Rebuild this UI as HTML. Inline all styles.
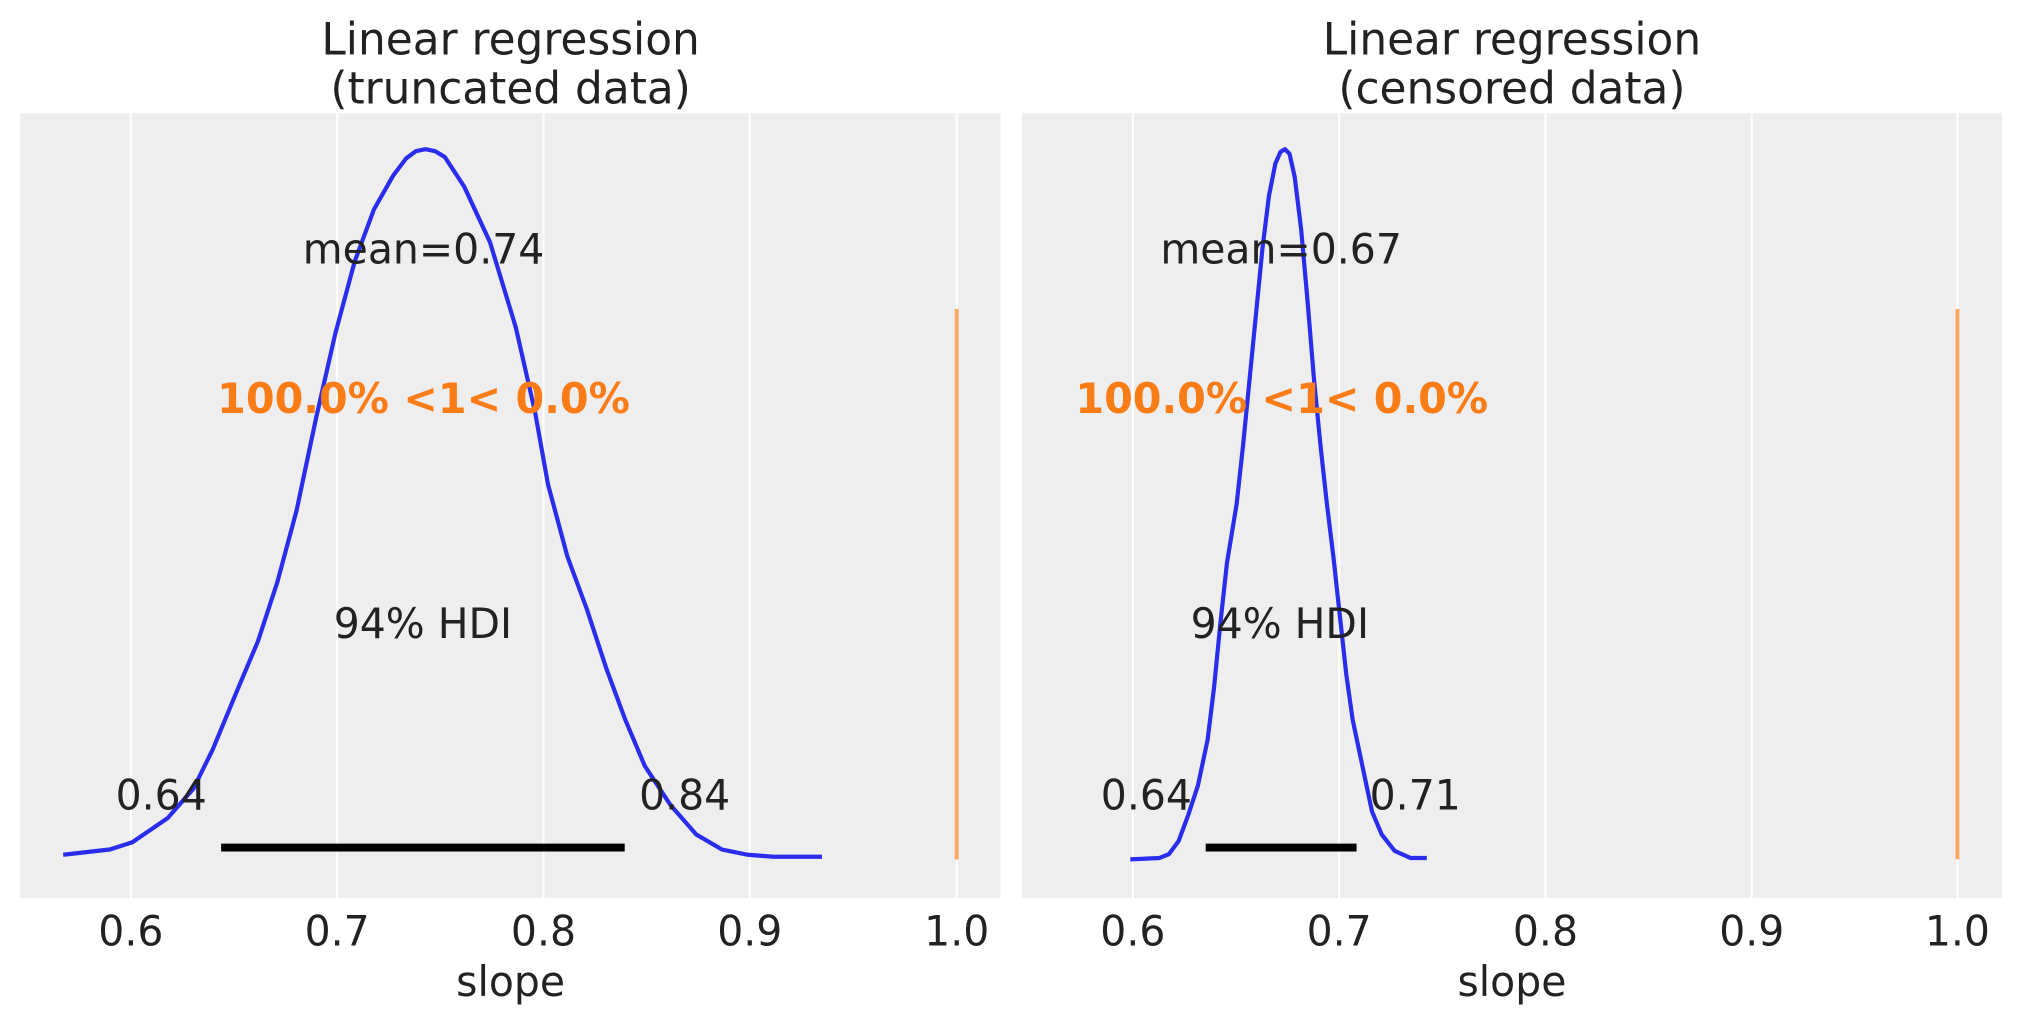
<!DOCTYPE html>
<html><head><meta charset="utf-8"><style>html,body{margin:0;padding:0;background:#fff}svg{display:block}</style></head>
<body>
<svg width="2023" height="1023" viewBox="0 0 2023 1023" xmlns="http://www.w3.org/2000/svg" font-family="DejaVu Sans, Liberation Sans, sans-serif" fill="#222">
<rect width="2023" height="1023" fill="#fff"/>
<g transform="scale(0.6447,0.6545)">
  <rect x="31" y="173" width="1521" height="1199" fill="#eeeeee"/>
  <g stroke="#fff" stroke-width="3">
    <line x1="203" y1="173" x2="203" y2="1372"/><line x1="523" y1="173" x2="523" y2="1372"/>
    <line x1="843" y1="173" x2="843" y2="1372"/><line x1="1163" y1="173" x2="1163" y2="1372"/>
    <line x1="1484" y1="173" x2="1484" y2="1372"/>
  </g>
  <line x1="1484" y1="472" x2="1484" y2="1313" stroke="#fda862" stroke-width="6"/>
  <path d="M98,1306 L170,1298 L205,1287 L260,1250 L300,1205 L330,1145 L370,1050 L400,980 L430,890 L460,780 L490,640 L520,510 L550,400 L580,320 L610,268 L630,242 L645,231 L660,228 L675,231 L690,240 L720,285 L760,370 L800,500 L830,630 L850,740 L880,850 L910,930 L940,1020 L970,1100 L1000,1170 L1040,1230 L1080,1275 L1120,1298 L1160,1306 L1200,1309 L1275,1309" fill="none" stroke="#2a2eec" stroke-width="6.5" stroke-linejoin="round"/>
  <line x1="343" y1="1295" x2="969" y2="1295" stroke="#000" stroke-width="12"/>
  <g font-size="63.5" text-anchor="middle">
    <text x="657" y="403">mean=0.74</text>
    <text x="656" y="975">94% HDI</text>
    <text x="250" y="1237">0.64</text>
    <text x="1062" y="1237">0.84</text>
    <text x="203" y="1445">0.6</text><text x="523" y="1445">0.7</text><text x="843" y="1445">0.8</text><text x="1163" y="1445">0.9</text><text x="1484" y="1445">1.0</text>
    <text x="792" y="1522">slope</text>
    <text x="657" y="631" font-weight="bold" fill="#fa7c17" font-size="64">100.0% &lt;1&lt; 0.0%</text>
  </g>
  <g font-size="68" text-anchor="middle">
    <text x="792" y="83">Linear regression</text>
    <text x="792" y="158">(truncated data)</text>
  </g>
</g>
<g transform="translate(1011,0) scale(0.6447,0.6545)">
  <rect x="17" y="173" width="1520" height="1199" fill="#eeeeee"/>
  <g stroke="#fff" stroke-width="3">
    <line x1="189" y1="173" x2="189" y2="1372"/><line x1="509" y1="173" x2="509" y2="1372"/>
    <line x1="829" y1="173" x2="829" y2="1372"/><line x1="1149" y1="173" x2="1149" y2="1372"/>
    <line x1="1468" y1="173" x2="1468" y2="1372"/>
  </g>
  <line x1="1468" y1="472" x2="1468" y2="1313" stroke="#fda862" stroke-width="6"/>
  <path d="M185,1313 L230,1311 L245,1305 L260,1285 L275,1245 L290,1200 L305,1130 L315,1050 L325,950 L335,860 L350,770 L360,680 L370,580 L380,480 L390,380 L400,300 L410,250 L418,232 L425,228 L432,235 L440,270 L450,350 L460,460 L470,580 L480,680 L490,770 L500,850 L510,940 L520,1030 L530,1100 L545,1170 L560,1240 L575,1275 L595,1300 L620,1311 L645,1311" fill="none" stroke="#2a2eec" stroke-width="6.5" stroke-linejoin="round"/>
  <line x1="302" y1="1295" x2="536" y2="1295" stroke="#000" stroke-width="12"/>
  <g font-size="63.5" text-anchor="middle">
    <text x="419" y="403">mean=0.67</text>
    <text x="417" y="975">94% HDI</text>
    <text x="210" y="1237">0.64</text>
    <text x="627" y="1237">0.71</text>
    <text x="189" y="1445">0.6</text><text x="509" y="1445">0.7</text><text x="829" y="1445">0.8</text><text x="1149" y="1445">0.9</text><text x="1468" y="1445">1.0</text>
    <text x="777" y="1522">slope</text>
    <text x="420" y="631" font-weight="bold" fill="#fa7c17" font-size="64">100.0% &lt;1&lt; 0.0%</text>
  </g>
  <g font-size="68" text-anchor="middle">
    <text x="777" y="83">Linear regression</text>
    <text x="777" y="158">(censored data)</text>
  </g>
</g>
</svg>
</body></html>
